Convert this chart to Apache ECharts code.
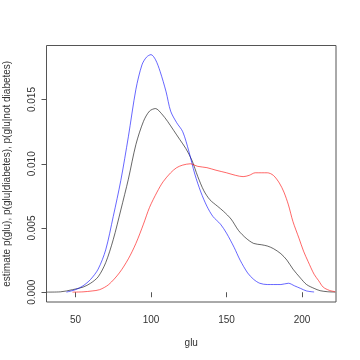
<!DOCTYPE html>
<html>
<head>
<meta charset="utf-8">
<script src="https://cdn.jsdelivr.net/npm/echarts@6/dist/echarts.min.js"></script>
<style>html,body{margin:0;padding:0;background:#fff}#c{width:360px;height:360px}</style>
</head>
<body>
<div id="c"></div>
<script>
// glu grid + density estimates
var xAll = [31, 40, 48, 55, 60, 65, 70, 75, 80, 85, 90, 95, 99, 103, 107, 111, 115, 119, 123, 127, 131, 135, 139, 144, 148, 153, 158, 163, 168, 173, 177, 181, 186, 190, 194, 199, 203, 208, 212, 217, 222];
var yAll = [0.00001, 0.00003, 0.0002, 0.0004, 0.0007, 0.0012, 0.0023, 0.0041, 0.0064, 0.0088, 0.0115, 0.0133, 0.0141, 0.0143, 0.0139, 0.0133, 0.0126, 0.0119, 0.0112, 0.0103, 0.0090, 0.0079, 0.0072, 0.0067, 0.0063, 0.0057, 0.0048, 0.0042, 0.0038, 0.0037, 0.0036, 0.0034, 0.0030, 0.0025, 0.0018, 0.0011, 0.0006, 0.0003, 0.00012, 0.00004, 0.00001];
var xNeg = [44, 50, 55, 60, 65, 70, 75, 80, 85, 90, 94, 97, 100, 103, 106, 110, 113, 117, 121, 125, 129, 133, 137, 141, 146, 150, 155, 159, 164, 168, 172, 177, 181, 186, 191, 195, 199, 203, 208];
var yNeg = [0.00001, 0.0002, 0.0005, 0.0010, 0.0018, 0.0033, 0.0059, 0.0087, 0.0121, 0.0158, 0.0177, 0.0183, 0.0185, 0.0181, 0.0172, 0.0156, 0.0141, 0.0132, 0.0125, 0.0110, 0.0092, 0.0078, 0.0067, 0.0059, 0.0053, 0.0046, 0.0035, 0.0025, 0.0015, 0.0010, 0.0007, 0.0006, 0.0006, 0.0006, 0.0007, 0.0005, 0.0003, 0.0001, 0.00002];
var xPos = [48, 55, 61, 66, 72, 79, 85, 90, 95, 99, 104, 108, 113, 117, 121, 126, 131, 137, 143, 150, 156, 161, 165, 169, 173, 177, 181, 185, 188, 191, 194, 198, 201, 204, 208, 211, 214, 218, 222];
var yPos = [0.00001, 0.00003, 0.0001, 0.0002, 0.0006, 0.0015, 0.0026, 0.0038, 0.0053, 0.0066, 0.0078, 0.0086, 0.0093, 0.0097, 0.0099, 0.0100, 0.0098, 0.0097, 0.0095, 0.0093, 0.0091, 0.0090, 0.0091, 0.0093, 0.0093, 0.0093, 0.0091, 0.0085, 0.0078, 0.0068, 0.0055, 0.0042, 0.0032, 0.0024, 0.0014, 0.0009, 0.0004, 0.00015, 0.00004];
var xTicks = [50, 100, 150, 200];
var yTicks = [0, 0.005, 0.01, 0.015];

function pairs(xs, ys) { return xs.map(function (x, i) { return [x, ys[i]]; }); }

var chart = echarts.init(document.getElementById('c'));
var txt = '#333';
var font = 'Liberation Sans, Arial, sans-serif';
chart.setOption({
  animation: false,
  backgroundColor: '#fff',
  grid: { left: 46.5, right: 24, top: 45.5, bottom: 58, show: true, borderColor: '#555', borderWidth: 1, backgroundColor: 'transparent', containLabel: false, outerBoundsMode: 'none' },
  xAxis: {
    type: 'value', min: 30.8, max: 222.5,
    name: 'glu', nameLocation: 'middle', nameGap: 36,
    nameTextStyle: { color: txt, fontSize: 10, fontFamily: font },
    axisLine: { show: false },
    splitLine: { show: false },
    axisTick: { show: true, length: 5, inside: false, customValues: xTicks, lineStyle: { color: '#555' } },
    axisLabel: { customValues: xTicks, color: txt, fontSize: 10, fontFamily: font, margin: 13 }
  },
  yAxis: {
    type: 'value', min: -0.00076, max: 0.01921,
    name: 'estimate p(glu), p(glu|diabetes), p(glu|not diabetes)', nameLocation: 'middle', nameGap: 34, nameRotate: 90,
    nameTextStyle: { color: txt, fontSize: 10, fontFamily: font },
    axisLine: { show: false },
    splitLine: { show: false },
    axisTick: { show: true, length: 5, inside: false, customValues: yTicks, lineStyle: { color: '#555' } },
    axisLabel: { customValues: yTicks, color: txt, fontSize: 10, fontFamily: font, rotate: 90, margin: 9,
      formatter: function (v) { return v.toFixed(3); } }
  },
  series: [
    { type: 'line', data: pairs(xAll, yAll), showSymbol: false, smooth: 0.3, clip: true, lineStyle: { color: '#000', width: 0.8, opacity: 0.75 } },
    { type: 'line', data: pairs(xNeg, yNeg), showSymbol: false, smooth: 0.3, clip: true, lineStyle: { color: '#0000ff', width: 0.8, opacity: 0.75 } },
    { type: 'line', data: pairs(xPos, yPos), showSymbol: false, smooth: 0.3, clip: true, lineStyle: { color: '#ff0000', width: 0.8, opacity: 0.75 } }
  ]
});
</script>
</body>
</html>
